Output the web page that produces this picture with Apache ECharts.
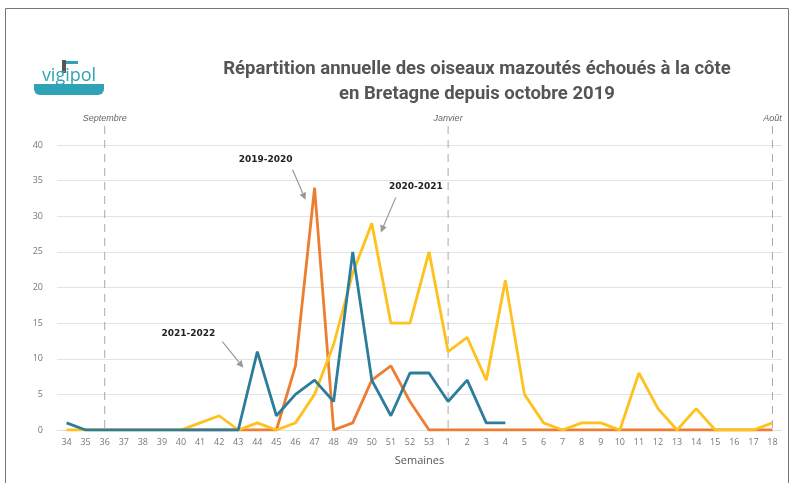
<!DOCTYPE html>
<html>
<head>
<meta charset="utf-8">
<script src="https://cdn.jsdelivr.net/npm/echarts@6/dist/echarts.min.js"></script>
<style>
  html, body { margin: 0; padding: 0; background: #fff; }
  #chart { width: 795px; height: 483px; }
</style>
</head>
<body>
<div id="chart"></div>
<script>
// semaines (de septembre à août)
var weeks = ['34','35','36','37','38','39','40','41','42','43','44','45','46','47','48','49','50','51','52','53',
  '1','2','3','4','5','6','7','8','9','10','11','12','13','14','15','16','17','18'];

// oiseaux mazoutés par saison
var s2019_2020 = [null,null,null,null,null,null,0,0,0,0,0,0,9,34,0,1,7,9,4,0,
  0,0,0,0,0,0,0,0,0,0,0,0,0,0,0,0,0,0];
var s2020_2021 = [0,0,0,0,0,0,0,1,2,0,1,0,1,5,12,22,29,15,15,25,
  11,13,7,21,5,1,0,1,1,0,8,3,0,3,0,0,0,1];
var s2021_2022 = [1,0,0,0,0,0,0,0,0,0,11,2,5,7,4,25,7,2,8,8,
  4,7,1,1,null,null,null,null,null,null,null,null,null,null,null,null,null,null];

var yTicks = [0, 5, 10, 15, 20, 25, 30, 35, 40];

// repères de mois
var monthWeeks = ['36', '1', '18'];
var monthLabels = ['Septembre', 'Janvier', 'Août'];

// étiquettes des saisons
var noteNames = ['2019-2020', '2020-2021', '2021-2022'];
var noteWeeks = ['47', '50', '44'];
var noteValues = [34, 29, 11];

var chart = echarts.init(document.getElementById('chart'));

var option = {
  animation: false,
  title: {
    text: 'Répartition annuelle des oiseaux mazoutés échoués à la côte\nen Bretagne depuis octobre 2019',
    left: 472,
    top: 52,
    textAlign: 'center',
    textStyle: {
      fontFamily: 'Roboto, sans-serif',
      fontSize: 18.5,
      fontWeight: 'bold',
      color: '#555',
      lineHeight: 25
    }
  },
  grid: { left: 57, right: 13, top: 145, bottom: 53 },
  xAxis: {
    type: 'category',
    data: weeks,
    name: 'Semaines',
    nameLocation: 'middle',
    nameGap: 25,
    nameTextStyle: { color: '#555', fontSize: 11, fontFamily: 'Open Sans, sans-serif' },
    axisTick: { show: false },
    axisLine: { lineStyle: { color: '#dedede' } },
    axisLabel: { color: '#777', fontSize: 9, margin: 8, interval: 0, fontFamily: 'Open Sans, sans-serif' }
  },
  yAxis: {
    type: 'value',
    min: yTicks[0],
    max: yTicks[yTicks.length - 1],
    interval: 5,
    axisLine: { show: false },
    axisTick: { show: false },
    axisLabel: { color: '#777', fontSize: 9, margin: 14, fontFamily: 'Open Sans, sans-serif' },
    splitLine: { lineStyle: { color: '#e3e3e3' } }
  },
  series: [
    { name: '2019-2020', type: 'line', data: s2019_2020, symbol: 'none', z: 2,
      lineStyle: { color: '#ED7D31', width: 2.8 } },
    { name: '2020-2021', type: 'line', data: s2020_2021, symbol: 'none', z: 3,
      lineStyle: { color: '#FFC11E', width: 2.8 } },
    { name: '2021-2022', type: 'line', data: s2021_2022, symbol: 'none', z: 4,
      lineStyle: { color: '#2C7C9C', width: 2.8 } }
  ]
};
chart.setOption(option);

// décor : cadre, logo, repères de mois, flèches
function px(week, v) {
  return chart.convertToPixel({ gridIndex: 0 }, [weeks.indexOf(week), v]);
}
var gr = [];
gr.push({ type: 'rect', shape: { x: 5.5, y: 8.5, width: 783, height: 490 },
  style: { fill: 'none', stroke: '#777', lineWidth: 1 }, silent: true });

// logo vigipol
gr.push({ type: 'rect', shape: { x: 34, y: 84, width: 70, height: 11, r: [0, 0, 6, 6] },
  style: { fill: '#2fa3b6' } });
gr.push({ type: 'rect', shape: { x: 62, y: 60, width: 4, height: 13 }, style: { fill: '#555' } });
gr.push({ type: 'rect', shape: { x: 66, y: 61, width: 12, height: 3 }, style: { fill: '#2fa3b6' } });
gr.push({ type: 'text', x: 69, y: 85, style: { text: 'vigipol', fill: '#2fa3b6', fontSize: 18,
  fontFamily: 'Open Sans, sans-serif', align: 'center', verticalAlign: 'bottom' } });

var yBottom = px(weeks[0], 0)[1];
for (var i = 0; i < monthWeeks.length; i++) {
  var mx = px(monthWeeks[i], 0)[0];
  gr.push({ type: 'line', shape: { x1: mx, y1: 126, x2: mx, y2: yBottom },
    style: { stroke: '#aaa', lineWidth: 1, lineDash: [8, 6] }, silent: true });
  gr.push({ type: 'text', x: mx, y: 118, style: { text: monthLabels[i], fill: '#666', fontSize: 9,
    fontStyle: 'italic', fontFamily: 'Liberation Sans, sans-serif', align: 'center', verticalAlign: 'middle' } });
}

var labelOff = [[-49, -28], [44, -37], [-69, -18]];
var tailOff = [[-22, -18], [24, -26], [-35, -10]];
var tipOff = [[-9, 12], [9, 9], [-14, 16]];
for (var j = 0; j < noteNames.length; j++) {
  var p = px(noteWeeks[j], noteValues[j]);
  var tx = p[0] + tailOff[j][0], ty = p[1] + tailOff[j][1];
  var hx = p[0] + tipOff[j][0], hy = p[1] + tipOff[j][1];
  var a = Math.atan2(hy - ty, hx - tx);
  var L = 7, W = 3.5;
  var bx = hx - L * Math.cos(a), by = hy - L * Math.sin(a);
  gr.push({ type: 'line', shape: { x1: tx, y1: ty, x2: bx, y2: by },
    style: { stroke: '#999', lineWidth: 1.2 }, z: 10 });
  gr.push({ type: 'polygon', shape: { points: [[hx, hy],
    [bx + W * Math.sin(a), by - W * Math.cos(a)], [bx - W * Math.sin(a), by + W * Math.cos(a)]] },
    style: { fill: '#999' }, z: 10 });
  gr.push({ type: 'text', x: p[0] + labelOff[j][0], y: p[1] + labelOff[j][1], z: 11,
    style: { text: noteNames[j], fill: '#222', fontSize: 9, fontWeight: 'bold',
      fontFamily: 'DejaVu Sans, sans-serif', align: 'center', verticalAlign: 'middle',
      backgroundColor: '#fff', padding: [1, 2] } });
}
chart.setOption({ graphic: gr });
</script>
</body>
</html>
